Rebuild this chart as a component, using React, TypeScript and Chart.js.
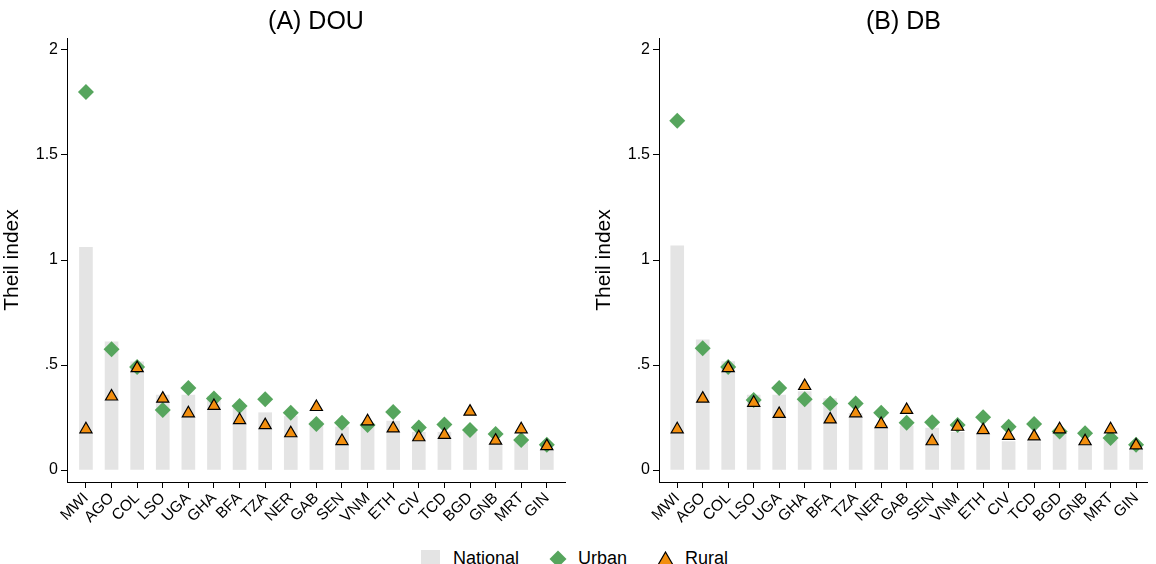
import React, { useEffect, useRef } from 'react';
import { Chart, registerables } from 'chart.js';

Chart.register(...registerables);

const countries = ['MWI', 'AGO', 'COL', 'LSO', 'UGA', 'GHA', 'BFA', 'TZA', 'NER', 'GAB', 'SEN', 'VNM', 'ETH', 'CIV', 'TCD', 'BGD', 'GNB', 'MRT', 'GIN'];

const douNational = [1.06, 0.61, 0.515, 0.357, 0.357, 0.35, 0.295, 0.273, 0.255, 0.23, 0.205, 0.22, 0.233, 0.18, 0.18, 0.18, 0.12, 0.14, 0.095];
const douUrban = [1.80, 0.575, 0.49, 0.286, 0.39, 0.34, 0.305, 0.337, 0.273, 0.219, 0.225, 0.214, 0.276, 0.203, 0.217, 0.19, 0.171, 0.143, 0.12];
const douRural = [0.194, 0.35, 0.485, 0.34, 0.27, 0.305, 0.238, 0.214, 0.175, 0.30, 0.138, 0.232, 0.198, 0.156, 0.167, 0.278, 0.14, 0.194, 0.114];

const dbNational = [1.067, 0.62, 0.516, 0.357, 0.357, 0.373, 0.34, 0.27, 0.21, 0.21, 0.2, 0.18, 0.167, 0.135, 0.135, 0.17, 0.12, 0.143, 0.095];
const dbUrban = [1.663, 0.58, 0.49, 0.333, 0.39, 0.337, 0.317, 0.317, 0.273, 0.225, 0.227, 0.214, 0.251, 0.206, 0.219, 0.183, 0.175, 0.152, 0.12];
const dbRural = [0.194, 0.34, 0.485, 0.32, 0.267, 0.40, 0.241, 0.27, 0.219, 0.286, 0.137, 0.206, 0.19, 0.163, 0.16, 0.194, 0.137, 0.194, 0.117];

const yTickValues = [0, 0.5, 1, 1.5, 2];
const yTickLabels = ['0', '.5', '1', '1.5', '2'];

const FONT = '"Liberation Sans", Arial, Helvetica, sans-serif';
const GREY = '#E4E4E4';
const GREEN = '#56A55D';
const ORANGE = '#F28E0E';

function makeConfig(title: string, national: number[], urban: number[], rural: number[], xMin: number, xMax: number, padRight: number): any {
  return {
    type: 'bar',
    data: {
      datasets: [
        {
          type: 'line',
          label: 'Rural',
          data: rural.map((v, i) => ({ x: i, y: v })),
          showLine: false,
          pointStyle: 'triangle',
          pointRadius: 7,
          pointBackgroundColor: ORANGE,
          pointBorderColor: '#000',
          pointBorderWidth: 1.2,
          order: 0,
          clip: false,
        },
        {
          type: 'line',
          label: 'Urban',
          data: urban.map((v, i) => ({ x: i, y: v })),
          showLine: false,
          pointStyle: 'rectRot',
          pointRadius: 8,
          pointBackgroundColor: GREEN,
          pointBorderColor: GREEN,
          pointBorderWidth: 0,
          order: 1,
          clip: false,
        },
        {
          type: 'bar',
          label: 'National',
          data: national.map((v, i) => ({ x: i, y: v })),
          backgroundColor: GREY,
          borderWidth: 0,
          barThickness: 13,
          order: 2,
        },
      ],
    },
    options: {
      responsive: false,
      animation: false,
      events: [],
      layout: { padding: { left: 0, right: padRight, top: 0, bottom: 0 } },
      plugins: {
        legend: { display: false },
        tooltip: { enabled: false },
        title: {
          display: true,
          text: title,
          color: '#000',
          font: { size: 25, family: FONT, weight: 'normal' },
          padding: { top: 7, bottom: 1 },
          fullSize: false,
        },
      },
      scales: {
        x: {
          type: 'linear',
          offset: false,
          min: xMin,
          max: xMax,
          afterBuildTicks: (s: any) => {
            s.ticks = countries.map((_, i) => ({ value: i }));
          },
          afterFit: (s: any) => {
            s.height = 48;
          },
          ticks: {
            callback: (v: any) => countries[v] ?? '',
            autoSkip: false,
            maxRotation: 45,
            minRotation: 45,
            color: '#000',
            font: { size: 15.5, family: FONT },
            padding: 1,
          },
          grid: { offset: false, drawOnChartArea: false, drawTicks: true, tickLength: 6, color: '#000', lineWidth: 1 },
          border: { display: true, color: '#000', width: 1 },
        },
        y: {
          type: 'linear',
          min: -0.057,
          max: 2.057,
          afterBuildTicks: (s: any) => {
            s.ticks = yTickValues.map((v) => ({ value: v }));
          },
          afterFit: (s: any) => {
            s.width = 67;
          },
          ticks: {
            callback: (v: any) => {
              const i = yTickValues.indexOf(v);
              return i >= 0 ? yTickLabels[i] : '';
            },
            color: '#000',
            font: { size: 16, family: FONT },
            padding: 3,
          },
          grid: { drawOnChartArea: false, drawTicks: true, tickLength: 6, color: '#000', lineWidth: 1 },
          border: { display: true, color: '#000', width: 1 },
          title: {
            display: true,
            text: 'Theil index',
            color: '#000',
            font: { size: 21, family: FONT },
            padding: 0,
          },
        },
      },
    },
  };
}

function Panel(props: { left: number; width: number; config: any }) {
  const ref = useRef<HTMLCanvasElement>(null);
  useEffect(() => {
    const chart = new Chart(ref.current as HTMLCanvasElement, props.config);
    return () => chart.destroy();
  }, []);
  return (
    <canvas
      ref={ref}
      width={props.width}
      height={530}
      style={{ position: 'absolute', left: props.left, top: 0, width: props.width, height: 530 }}
    />
  );
}

const legendText: React.CSSProperties = {
  position: 'absolute',
  top: 547,
  fontFamily: FONT,
  fontSize: 18,
  lineHeight: '22px',
  color: '#000',
  whiteSpace: 'nowrap',
};

export default function App() {
  const left = makeConfig('(A) DOU', douNational, douUrban, douRural, -0.74, 18.71, 27);
  const right = makeConfig('(B) DB', dbNational, dbUrban, dbRural, -0.715, 18.46, 6);
  return (
    <div style={{ position: 'fixed', left: 0, top: 0, width: 1156, height: 564, background: '#fff', overflow: 'hidden' }}>
      <Panel left={0} width={592} config={left} />
      <Panel left={592} width={564} config={right} />
      <div style={{ position: 'absolute', left: 421, top: 550, width: 19, height: 19, background: GREY }} />
      <div style={{ ...legendText, left: 453 }}>National</div>
      <div style={{ position: 'absolute', left: 552, top: 553, width: 12, height: 12, background: GREEN, transform: 'rotate(45deg)' }} />
      <div style={{ ...legendText, left: 578 }}>Urban</div>
      <svg style={{ position: 'absolute', left: 657, top: 551 }} width={17} height={15}>
        <polygon points="8.5,1 16,14 1,14" fill={ORANGE} stroke="#000" strokeWidth={1.2} />
      </svg>
      <div style={{ ...legendText, left: 685 }}>Rural</div>
    </div>
  );
}
